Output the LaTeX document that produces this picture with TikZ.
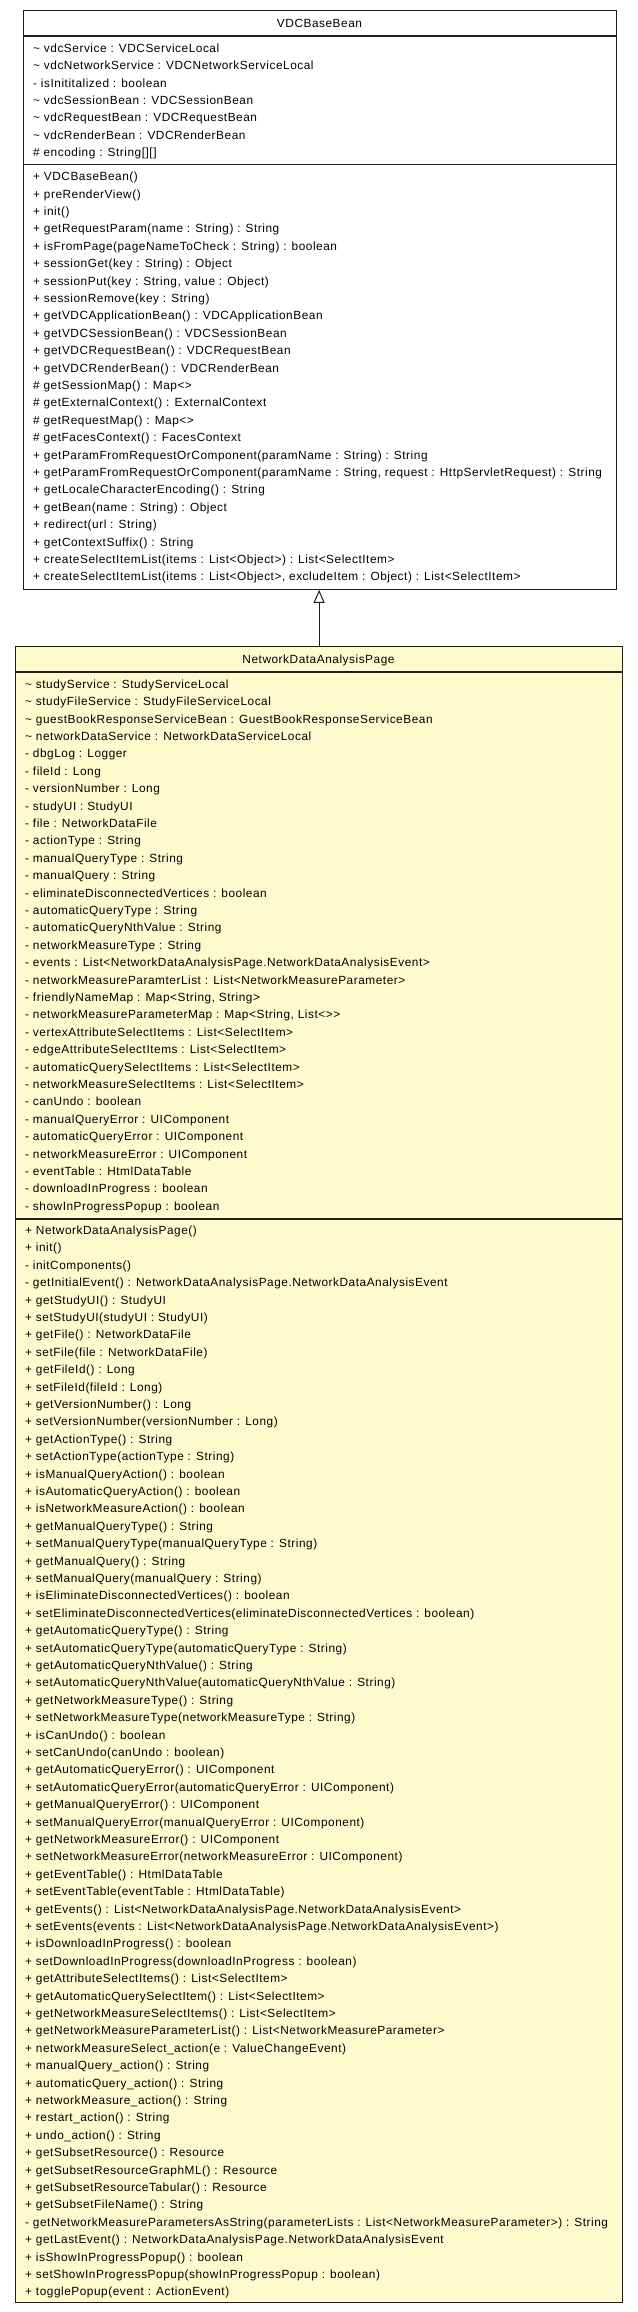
\documentclass[tikz,border=0pt]{standalone}
\usepackage{fontspec}
\setmainfont{Liberation Sans}
\newfontfamily\umlfont[LetterSpace=4.5]{Liberation Sans}
\usetikzlibrary{arrows.meta}
\definecolor{umlyellow}{RGB}{255,250,206}
\definecolor{umlline}{RGB}{30,30,30}
\newcommand\startrows[2]{\xdef\curx{#1}\xdef\cury{#2}}
\newcommand\mrow[2]{\node[rowtxt] (#1) at (\curx,\cury) {#2};\pgfmathsetmacro\tmpy{\cury+17.4}\xdef\cury{\tmpy}}
\tikzset{
  classbox/.style={draw=umlline, line width=1.2pt, rectangle, inner sep=0pt, anchor=north west},
  rowtxt/.style={anchor=base west, inner sep=0pt, font=\umlfont\fontsize{11.85}{14}\selectfont, text=black},
  titletxt/.style={anchor=base, inner sep=0pt, font=\umlfont\fontsize{11.85}{14}\selectfont, text=black},
  sepline/.style={draw=umlline, line width=1.2pt},
  inherit/.style={draw=umlline, line width=1pt, -{Triangle[open, length=13pt, width=11pt, line width=1pt]}}
}
\begin{document}
\begin{tikzpicture}[x=1pt,y=-1pt]
\useasboundingbox[fill=white] (0,0) rectangle (637,2312);
% ---------------- VDCBaseBean
\node[classbox, fill=white, minimum width=593pt, minimum height=578.6pt] (base) at (23,10) {};
\node[titletxt] (basetitle) at (319.5,27.3) {VDCBaseBean};
\draw[sepline] (base.west |- 0,36) coordinate (bs1a) -- (base.east |- 0,36) coordinate (bs1b);
\draw[sepline] (base.west |- 0,164.4) coordinate (bs2a) -- (base.east |- 0,164.4) coordinate (bs2b);
\startrows{33}{52.3}
\mrow{ba1}{\textasciitilde{} vdcService : VDCServiceLocal}
\mrow{ba2}{\textasciitilde{} vdcNetworkService : VDCNetworkServiceLocal}
\mrow{ba3}{- isInititalized : boolean}
\mrow{ba4}{\textasciitilde{} vdcSessionBean : VDCSessionBean}
\mrow{ba5}{\textasciitilde{} vdcRequestBean : VDCRequestBean}
\mrow{ba6}{\textasciitilde{} vdcRenderBean : VDCRenderBean}
\mrow{ba7}{\# encoding : String[][]}
\startrows{33}{180.7}
\mrow{bm1}{+ VDCBaseBean()}
\mrow{bm2}{+ preRenderView()}
\mrow{bm3}{+ init()}
\mrow{bm4}{+ getRequestParam(name : String) : String}
\mrow{bm5}{+ isFromPage(pageNameToCheck : String) : boolean}
\mrow{bm6}{+ sessionGet(key : String) : Object}
\mrow{bm7}{+ sessionPut(key : String, value : Object)}
\mrow{bm8}{+ sessionRemove(key : String)}
\mrow{bm9}{+ getVDCApplicationBean() : VDCApplicationBean}
\mrow{bm10}{+ getVDCSessionBean() : VDCSessionBean}
\mrow{bm11}{+ getVDCRequestBean() : VDCRequestBean}
\mrow{bm12}{+ getVDCRenderBean() : VDCRenderBean}
\mrow{bm13}{\# getSessionMap() : Map<>}
\mrow{bm14}{\# getExternalContext() : ExternalContext}
\mrow{bm15}{\# getRequestMap() : Map<>}
\mrow{bm16}{\# getFacesContext() : FacesContext}
\mrow{bm17}{+ getParamFromRequestOrComponent(paramName : String) : String}
\mrow{bm18}{+ getParamFromRequestOrComponent(paramName : String, request : HttpServletRequest) : String}
\mrow{bm19}{+ getLocaleCharacterEncoding() : String}
\mrow{bm20}{+ getBean(name : String) : Object}
\mrow{bm21}{+ redirect(url : String)}
\mrow{bm22}{+ getContextSuffix() : String}
\mrow{bm23}{+ createSelectItemList(items : List<Object>) : List<SelectItem>}
\mrow{bm24}{+ createSelectItemList(items : List<Object>, excludeItem : Object) : List<SelectItem>}
% ---------------- NetworkDataAnalysisPage
\node[classbox, fill=umlyellow, minimum width=607pt, minimum height=1656pt] (page) at (15,646) {};
\node[titletxt] (pagetitle) at (318.5,663.3) {NetworkDataAnalysisPage};
\draw[sepline] (page.west |- 0,672) coordinate (ps1a) -- (page.east |- 0,672) coordinate (ps1b);
\draw[sepline] (page.west |- 0,1219) coordinate (ps2a) -- (page.east |- 0,1219) coordinate (ps2b);
\startrows{25}{688.3}
\mrow{pa1}{\textasciitilde{} studyService : StudyServiceLocal}
\mrow{pa2}{\textasciitilde{} studyFileService : StudyFileServiceLocal}
\mrow{pa3}{\textasciitilde{} guestBookResponseServiceBean : GuestBookResponseServiceBean}
\mrow{pa4}{\textasciitilde{} networkDataService : NetworkDataServiceLocal}
\mrow{pa5}{- dbgLog : Logger}
\mrow{pa6}{- fileId : Long}
\mrow{pa7}{- versionNumber : Long}
\mrow{pa8}{- studyUI : StudyUI}
\mrow{pa9}{- file : NetworkDataFile}
\mrow{pa10}{- actionType : String}
\mrow{pa11}{- manualQueryType : String}
\mrow{pa12}{- manualQuery : String}
\mrow{pa13}{- eliminateDisconnectedVertices : boolean}
\mrow{pa14}{- automaticQueryType : String}
\mrow{pa15}{- automaticQueryNthValue : String}
\mrow{pa16}{- networkMeasureType : String}
\mrow{pa17}{- events : List<NetworkDataAnalysisPage.NetworkDataAnalysisEvent>}
\mrow{pa18}{- networkMeasureParamterList : List<NetworkMeasureParameter>}
\mrow{pa19}{- friendlyNameMap : Map<String, String>}
\mrow{pa20}{- networkMeasureParameterMap : Map<String, List<>>}
\mrow{pa21}{- vertexAttributeSelectItems : List<SelectItem>}
\mrow{pa22}{- edgeAttributeSelectItems : List<SelectItem>}
\mrow{pa23}{- automaticQuerySelectItems : List<SelectItem>}
\mrow{pa24}{- networkMeasureSelectItems : List<SelectItem>}
\mrow{pa25}{- canUndo : boolean}
\mrow{pa26}{- manualQueryError : UIComponent}
\mrow{pa27}{- automaticQueryError : UIComponent}
\mrow{pa28}{- networkMeasureError : UIComponent}
\mrow{pa29}{- eventTable : HtmlDataTable}
\mrow{pa30}{- downloadInProgress : boolean}
\mrow{pa31}{- showInProgressPopup : boolean}
\startrows{25}{1234.4}
\mrow{pm1}{+ NetworkDataAnalysisPage()}
\mrow{pm2}{+ init()}
\mrow{pm3}{- initComponents()}
\mrow{pm4}{- getInitialEvent() : NetworkDataAnalysisPage.NetworkDataAnalysisEvent}
\mrow{pm5}{+ getStudyUI() : StudyUI}
\mrow{pm6}{+ setStudyUI(studyUI : StudyUI)}
\mrow{pm7}{+ getFile() : NetworkDataFile}
\mrow{pm8}{+ setFile(file : NetworkDataFile)}
\mrow{pm9}{+ getFileId() : Long}
\mrow{pm10}{+ setFileId(fileId : Long)}
\mrow{pm11}{+ getVersionNumber() : Long}
\mrow{pm12}{+ setVersionNumber(versionNumber : Long)}
\mrow{pm13}{+ getActionType() : String}
\mrow{pm14}{+ setActionType(actionType : String)}
\mrow{pm15}{+ isManualQueryAction() : boolean}
\mrow{pm16}{+ isAutomaticQueryAction() : boolean}
\mrow{pm17}{+ isNetworkMeasureAction() : boolean}
\mrow{pm18}{+ getManualQueryType() : String}
\mrow{pm19}{+ setManualQueryType(manualQueryType : String)}
\mrow{pm20}{+ getManualQuery() : String}
\mrow{pm21}{+ setManualQuery(manualQuery : String)}
\mrow{pm22}{+ isEliminateDisconnectedVertices() : boolean}
\mrow{pm23}{+ setEliminateDisconnectedVertices(eliminateDisconnectedVertices : boolean)}
\mrow{pm24}{+ getAutomaticQueryType() : String}
\mrow{pm25}{+ setAutomaticQueryType(automaticQueryType : String)}
\mrow{pm26}{+ getAutomaticQueryNthValue() : String}
\mrow{pm27}{+ setAutomaticQueryNthValue(automaticQueryNthValue : String)}
\mrow{pm28}{+ getNetworkMeasureType() : String}
\mrow{pm29}{+ setNetworkMeasureType(networkMeasureType : String)}
\mrow{pm30}{+ isCanUndo() : boolean}
\mrow{pm31}{+ setCanUndo(canUndo : boolean)}
\mrow{pm32}{+ getAutomaticQueryError() : UIComponent}
\mrow{pm33}{+ setAutomaticQueryError(automaticQueryError : UIComponent)}
\mrow{pm34}{+ getManualQueryError() : UIComponent}
\mrow{pm35}{+ setManualQueryError(manualQueryError : UIComponent)}
\mrow{pm36}{+ getNetworkMeasureError() : UIComponent}
\mrow{pm37}{+ setNetworkMeasureError(networkMeasureError : UIComponent)}
\mrow{pm38}{+ getEventTable() : HtmlDataTable}
\mrow{pm39}{+ setEventTable(eventTable : HtmlDataTable)}
\mrow{pm40}{+ getEvents() : List<NetworkDataAnalysisPage.NetworkDataAnalysisEvent>}
\mrow{pm41}{+ setEvents(events : List<NetworkDataAnalysisPage.NetworkDataAnalysisEvent>)}
\mrow{pm42}{+ isDownloadInProgress() : boolean}
\mrow{pm43}{+ setDownloadInProgress(downloadInProgress : boolean)}
\mrow{pm44}{+ getAttributeSelectItems() : List<SelectItem>}
\mrow{pm45}{+ getAutomaticQuerySelectItem() : List<SelectItem>}
\mrow{pm46}{+ getNetworkMeasureSelectItems() : List<SelectItem>}
\mrow{pm47}{+ getNetworkMeasureParameterList() : List<NetworkMeasureParameter>}
\mrow{pm48}{+ networkMeasureSelect\_action(e : ValueChangeEvent)}
\mrow{pm49}{+ manualQuery\_action() : String}
\mrow{pm50}{+ automaticQuery\_action() : String}
\mrow{pm51}{+ networkMeasure\_action() : String}
\mrow{pm52}{+ restart\_action() : String}
\mrow{pm53}{+ undo\_action() : String}
\mrow{pm54}{+ getSubsetResource() : Resource}
\mrow{pm55}{+ getSubsetResourceGraphML() : Resource}
\mrow{pm56}{+ getSubsetResourceTabular() : Resource}
\mrow{pm57}{+ getSubsetFileName() : String}
\mrow{pm58}{- getNetworkMeasureParametersAsString(parameterLists : List<NetworkMeasureParameter>) : String}
\mrow{pm59}{+ getLastEvent() : NetworkDataAnalysisPage.NetworkDataAnalysisEvent}
\mrow{pm60}{+ isShowInProgressPopup() : boolean}
\mrow{pm61}{+ setShowInProgressPopup(showInProgressPopup : boolean)}
\mrow{pm62}{+ togglePopup(event : ActionEvent)}
% ---------------- generalization
\draw[inherit] (page.north) -- (page.north |- base.south);
\end{tikzpicture}
\end{document}
